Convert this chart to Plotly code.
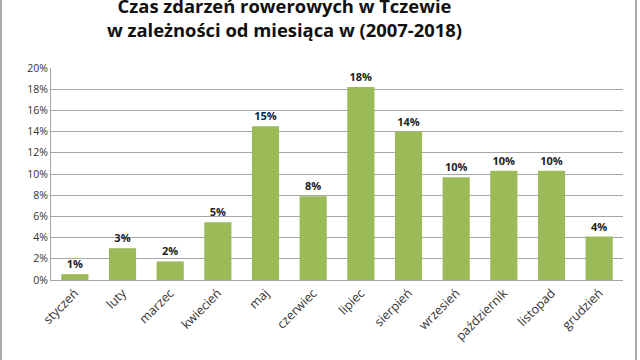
import plotly.graph_objects as go

months = ["styczeń", "luty", "marzec", "kwiecień", "maj", "czerwiec", "lipiec",
          "sierpień", "wrzesień", "październik", "listopad", "grudzień"]
values = [0.55, 3.0, 1.75, 5.45, 14.5, 7.9, 18.2, 14.0, 9.7, 10.3, 10.3, 4.1]
labels = ["1%", "3%", "2%", "5%", "15%", "8%", "18%", "14%", "10%", "10%", "10%", "4%"]
y_ticks = [0, 2, 4, 6, 8, 10, 12, 14, 16, 18, 20]
y_tick_text = [f"{v}%" for v in y_ticks]

fig = go.Figure(go.Bar(
    x=months, y=values, text=labels, textposition="outside",
    textfont=dict(family="Open Sans", size=11, color="#222222", weight="bold"),
    marker=dict(color="#9bbb59", line=dict(width=0)),
    cliponaxis=False,
))

fig.update_layout(
    width=640, height=360,
    margin=dict(l=51, r=17, t=68, b=80),
    paper_bgcolor="white", plot_bgcolor="white",
    bargap=0.43,
    showlegend=False,
    title=dict(
        text="<b>Czas zdarzeń rowerowych w Tczewie<br>w zależności od miesiąca w (2007-2018)</b>",
        x=284.5/640, xanchor="center", y=1 - 13/360, yanchor="middle",
        font=dict(family="Open Sans", size=18.4, color="#111111"),
    ),
    xaxis=dict(
        tickangle=-45, showgrid=False, showline=True, linecolor="#a6a6a6",
        linewidth=1, ticks="", tickfont=dict(family="Open Sans", size=12.5, color="#333333"),
    ),
    yaxis=dict(
        range=[0, 20], tickvals=y_ticks, ticktext=y_tick_text,
        showgrid=True, gridcolor="#a6a6a6", gridwidth=1,
        showline=True, linecolor="#a6a6a6", linewidth=1, zeroline=False,
        ticks="", tickfont=dict(family="Open Sans", size=10.5, color="#333333"),
    ),
    shapes=[
        dict(type="line", xref="paper", yref="paper", x0=-50/572, x1=-50/572, y0=-0.6, y1=1.5,
             line=dict(color="#8c8c8c", width=1.5)),
        dict(type="line", xref="paper", yref="paper", x0=585/572, x1=585/572, y0=-0.6, y1=1.5,
             line=dict(color="#8c8c8c", width=1.5)),
    ],
)

fig.write_html("out.html")
